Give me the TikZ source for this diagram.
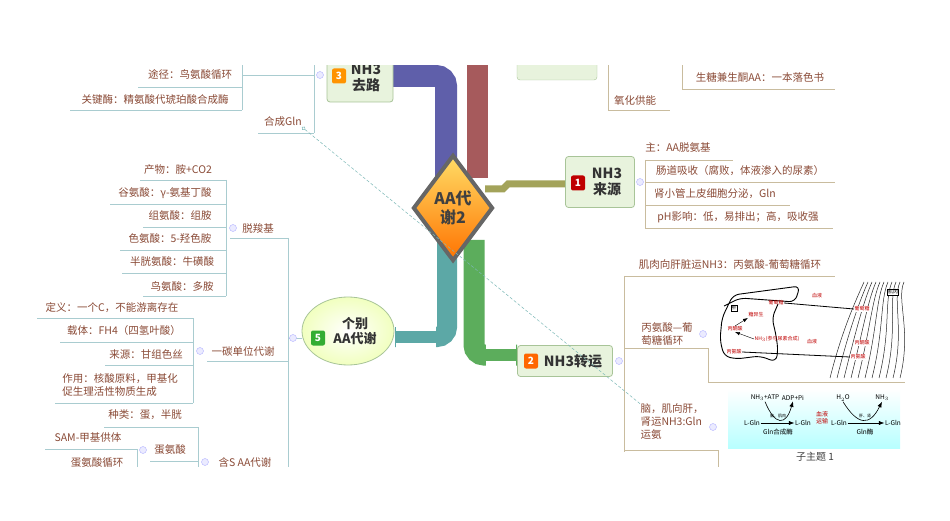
\documentclass[tikz,border=0pt]{standalone}
\usepackage{fontspec}
\setmainfont{Noto Sans CJK SC}
\usetikzlibrary{shapes.geometric,arrows.meta}
\definecolor{txt}{HTML}{8A4A36}
\definecolor{lline}{HTML}{A9CCD0}
\definecolor{rline}{HTML}{C9BC9E}
\definecolor{boxf}{HTML}{E8F3DD}
\definecolor{boxd}{HTML}{A8C498}
\definecolor{cpur}{HTML}{5F5FAA}
\definecolor{cred}{HTML}{A65A5C}
\definecolor{colv}{HTML}{A3A35A}
\definecolor{cgrn}{HTML}{5CAD5C}
\definecolor{ctea}{HTML}{5CA8A6}
\tikzset{
 lf/.style={text=txt,font=\fontsize{10.5}{13}\selectfont,inner sep=0pt,align=left},
 topic/.style={draw=boxd,fill=boxf,rounded corners=3pt,line width=0.8pt,font=\fontsize{14}{16}\selectfont\bfseries,text=black!80,align=center},
 badge/.style={rounded corners=2pt,text=white,font=\fontsize{10}{10}\selectfont\bfseries,minimum width=14pt,minimum height=15pt,inner sep=0pt},
 coll/.style={circle,draw=blue!30,fill=blue!8,minimum size=7pt,inner sep=0pt},
 ll/.style={draw=lline,line width=0.8pt},
 rl/.style={draw=rline,line width=0.8pt},
 sm/.style={font=\fontsize{5}{6}\selectfont,text=red!75!black,inner sep=0.5pt},
 rx/.style={font=\fontsize{6.5}{7}\selectfont,inner sep=0.5pt}
}
\newcommand\LL[7]{\node[lf] (#1) at (#2,#3) {#7}; \path[ll] (#4,#6)--(#5,#6);}
\newcommand\RL[7]{\node[lf] (#1) at (#2,#3) {#7}; \path[rl] (#4,#6)--(#5,#6);}
\begin{document}
\begin{tikzpicture}[x=1pt,y=-1pt]
\useasboundingbox (0,0) rectangle (950,521);
\fill[white] (0,0) rectangle (950,521);
\begin{scope}
\clip (0,66) rectangle (950,466);
% thick branches
\fill[cred] (467,55) rectangle (488,178);
\draw[cpur,line width=22pt,rounded corners=10pt] (446,190)--(446,76)--(393,76);
\draw[cpur,line width=12pt] (420,76)--(393,76);
\draw[colv,line width=7pt] (485,189)--(503,189)--(508,184)--(566,184);
\draw[ctea,line width=20pt,rounded corners=10pt] (447,235)--(447,337)--(395,337);
\fill[white] (396,326) rectangle (436,331);\fill[white] (396,343) rectangle (436,350);
\draw[cgrn,line width=21pt,rounded corners=10pt] (474,240)--(474,355)--(517,355);
\fill[white] (486,340) rectangle (516,349);\fill[white] (486,361) rectangle (516,370);
% center
\node[diamond,draw=gray!80!black,line width=4pt,top color=orange!45!yellow!60,bottom color=orange!90!red,minimum width=80pt,minimum height=106pt,inner sep=0pt,font=\fontsize{16}{19}\selectfont\bfseries,text=black!75,align=center] (c) at (453,208) {AA代\\谢2};
% topic 3
\node[topic,minimum width=66pt,minimum height=48pt] (t3) at (360,78) {\hspace{12pt}NH3\\\hspace{12pt}去路};
\node[badge,fill=orange!85!yellow] (b3) at (339,76) {3};
\node[draw=boxd,fill=boxf,rounded corners=3pt,minimum width=80pt,minimum height=30pt] (t4) at (557,65) {};
% topic 1
\node[topic,minimum width=69pt,minimum height=51pt] (t1) at (600,182) {\hspace{14pt}NH3\\\hspace{14pt}来源};
\node[badge,fill=red!75!black] (b1) at (578,183) {1};
% topic 2
\node[topic,minimum width=95pt,minimum height=31pt] (t2) at (565,361) {\hspace{16pt}NH3转运};
\node[badge,fill=orange!80!red] (b2) at (531,361) {2};
% topic 5
\node[ellipse,draw=boxd,line width=0.8pt,inner color=white,outer color=green!22!yellow!25,minimum width=92pt,minimum height=68pt,font=\fontsize{13}{15}\selectfont\bfseries,text=black!80,align=center] (t5) at (348,331) {\hspace{14pt}个别\\\hspace{14pt}AA代谢};
\node[badge,fill=green!60!black!80] (b5) at (318,338) {5};
% ---- left of topic 3
\path[ll] (314,60)--(314,133);
\node[coll] (k3) at (320,75) {};
\LL{n31}{190}{75}{138}{242}{87}{途径：鸟氨酸循环}
\LL{n32}{155}{100}{70}{242}{110}{关键酶：精氨酸代琥珀酸合成酶}
\path[ll] (242,60)--(242,110) (242,75)--(314,75);
\LL{n33}{283}{122}{258}{314}{133}{合成Gln}
% ---- topic 5 children
\path[ll] (288,238)--(288,470) (288,338)--(302,338);
\node[coll] (k5) at (293,338) {};
\LL{d0}{258}{228}{230}{288}{238}{脱羧基}
\node[coll] (kd) at (233,228) {};
\path[ll] (226,180)--(226,296);
\LL{d1}{178}{170}{140}{226}{180}{产物：胺+CO2}
\LL{d2}{165}{193}{110}{226}{204}{谷氨酸：γ-氨基丁酸}
\LL{d3}{180}{216}{143}{226}{227}{组氨酸：组胺}
\LL{d4}{170}{239}{120}{226}{250}{色氨酸：5-羟色胺}
\LL{d5}{172}{262}{122}{226}{273}{半胱氨酸：牛磺酸}
\LL{d6}{182}{286}{143}{226}{296}{鸟氨酸：多胺}
\LL{o0}{243}{351}{207}{288}{361}{一碳单位代谢}
\node[coll] (ko) at (200,351) {};
\path[ll] (193,318)--(193,403);
\LL{o1}{112}{308}{37}{193}{318}{定义：一个C，不能游离存在}
\LL{o2}{124}{331}{60}{193}{342}{载体：FH4（四氢叶酸）}
\LL{o3}{146}{354}{105}{193}{365}{来源：甘组色丝}
\LL{o4}{120}{385}{55}{193}{403}{作用：核酸原料，甲基化\\促生理活性物质生成}
\LL{s0}{245}{462}{207}{288}{473}{含S AA代谢}
\node[coll] (ks) at (205,462) {};
\path[ll] (198,427)--(198,470);
\LL{s1}{145}{415}{104}{198}{427}{种类：蛋，半胱}
\LL{s2}{170}{450}{150}{198}{461}{蛋氨酸}
\node[coll] (km) at (143,450) {};
\path[ll] (137,449)--(137,470);
\LL{s3}{88}{438}{45}{137}{449}{SAM-甲基供体}
\LL{s4}{97}{463}{70}{137}{473}{蛋氨酸循环}
% ---- top right
\path[rl] (608,55)--(608,110) (682,55)--(682,89);
\RL{r1}{635}{101}{608}{670}{110}{氧化供能}
\RL{r2}{760}{77}{682}{835}{89}{生糖兼生酮AA：一本落色书}
% ---- topic 1 children
\node[coll] (k1) at (640,182) {};
\path[rl] (645,160)--(645,228);
\RL{a1}{678}{148}{645}{733}{160}{主：AA脱氨基}
\RL{a2}{740}{171}{645}{835}{182}{肠道吸收（腐败，体液渗入的尿素）}
\RL{a3}{715}{194}{645}{790}{205}{肾小管上皮细胞分泌，Gln}
\RL{a4}{738}{217}{645}{833}{228}{pH影响：低，易排出；高，吸收强}
% ---- topic 2 children
\node[coll] (k2) at (619,361) {};
\path[rl] (624,276)--(624,452);
\RL{e1}{730}{265}{624}{835}{276}{肌肉向肝脏运NH3：丙氨酸-葡萄糖循环}
\node[lf] (e2) at (667,334) {丙氨酸---葡\\萄糖循环};
\path[rl] (624,348)--(708,348)--(708,382)--(905,382);
\node[coll] at (703,334) {};
\node[lf] (e3) at (672,422) {脑，肌向肝，\\肾运NH3:Gln\\运氨};
\path[rl] (624,450)--(718,450)--(718,470);
\node[coll] at (713,427) {};
% liver/muscle picture: muscle fibres
\foreach \i in {0,...,10} {\pgfmathsetmacro\xa{830+\i*7}\pgfmathsetmacro\xb{864+\i*4}
  \draw[black!85,line width=0.5pt] (\xa,378) .. controls (\xa+12,330) and (\xb-8,300) .. (\xb,282);}
\draw[black,line width=0.9pt,rounded corners=6pt] (724,306)--(740,298)--(795,302)--(800,286)--(733,295)--(722,318)--(720,340)--(724,356)--(736,359)--(760,356)--(776,362)--(778,350)--(776,335)--(772,318)--(778,304);
\node[draw=black,line width=0.4pt,inner sep=0.5pt,font=\fontsize{5}{5}\selectfont] (liv) at (734,308) {肝};
\node[sm] (lg) at (776,303) {葡萄糖};
\node[sm] (ly) at (756,315) {糖异生};
\node[sm] (lb) at (735,329) {丙酮酸};
\node[sm] (ln) at (777,339) {NH$_3$(参与尿素合成)};
\node[sm] (la) at (734,352) {丙氨酸};
\node[sm] (x1) at (817,296) {血液};
\node[sm] (x2) at (812,342) {血液};
\node[sm,fill=white] (mg) at (862,309) {葡萄糖};
\node[sm,fill=white] (mb) at (862,343) {丙酮酸};
\node[sm,fill=white] (ma) at (858,357) {丙氨酸};
\node[draw=black,line width=0.4pt,inner sep=0.5pt,font=\fontsize{5}{5}\selectfont,fill=white] (mu) at (893,292) {肌肉};
\draw[black,line width=0.8pt] (lg.east)--(mg.west);
\draw[black,line width=0.8pt] (la.east)--(ma.west);
\draw[black,-Latex] (lb.north)--(ly.south west);
\draw[black,-Latex] (ln.west)--(lb.south);
% Gln picture
\shade[top color=white,bottom color=cyan!28] (728,389) rectangle (900,448);
\node[rx] (g1) at (752,423) {L-Gln};
\node[rx] (g2) at (803,423) {L-Gln};
\node[rx] (g3) at (839,423) {L-Gln};
\node[rx] (g4) at (893,423) {L-Gln};
\node[rx] (p1) at (765,398) {NH$_3$+ATP};
\node[rx] (p2) at (793,398) {ADP+Pi};
\node[rx] (p3) at (843,398) {H$_2$O};
\node[rx] (p4) at (882,398) {NH$_3$};
\node[rx] (q1) at (778,432) {Gln合成酶};
\node[rx] (q2) at (865,432) {Gln酶};
\node[sm,font=\fontsize{6}{7}\selectfont,align=center] (q3) at (822,418) {血液\\运输};
\node[sm,font=\fontsize{4}{5}\selectfont,text=black] (q4) at (778,416) {脑、肌肉};
\node[sm,font=\fontsize{4}{5}\selectfont,text=black] (q5) at (865,416) {肝、肾};
\draw[black,-Latex,line width=0.6pt] (g1.east)--(g2.west);
\draw[black,-Latex,line width=0.6pt] (g3.east)--(g4.west);
\draw[black,-Latex,line width=0.6pt] (p1.south) .. controls (775,426) and (786,426) .. (p2.south);
\draw[black,-Latex,line width=0.6pt] (p3.south) .. controls (858,426) and (870,426) .. (p4.south);
\node[font=\fontsize{10}{11}\selectfont,text=black!75] (sub) at (815,457) {子主题 1};
% relationship line
\draw[ctea!80,densely dashed,line width=0.5pt,{Circle[open,length=4pt]}-] (n33.south east)--(e3.north west);
\end{scope}
\end{tikzpicture}
\end{document}
